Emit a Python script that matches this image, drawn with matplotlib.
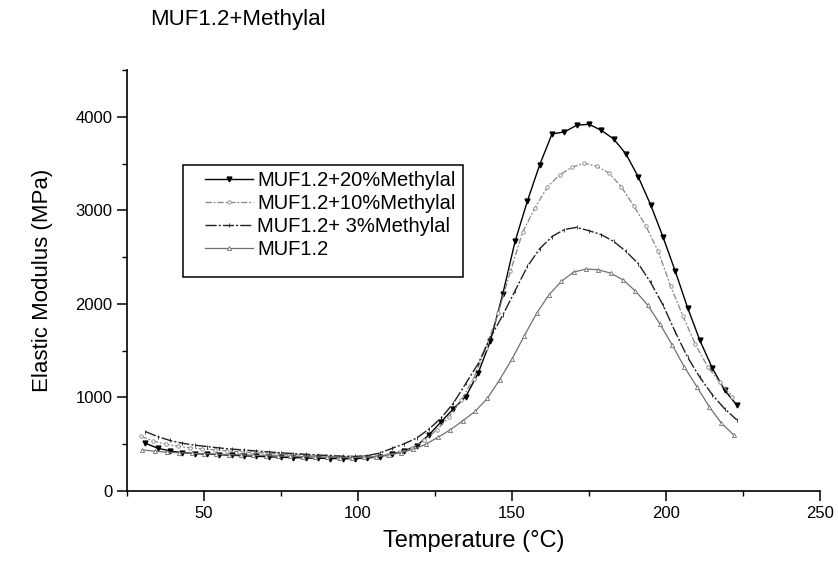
import matplotlib

matplotlib.use("Agg")
import matplotlib.pyplot as plt
from matplotlib.patches import Rectangle
from matplotlib.ticker import MultipleLocator

plt.rcParams["font.family"] = ["Liberation Sans", "DejaVu Sans"]

# temperatures (°C) and elastic modulus (MPa)
temp_20 = [31, 35, 39, 43, 47, 51, 55, 59, 63, 67, 71, 75, 79, 83, 87, 91, 95, 99,
           103, 107, 111, 115, 119, 123, 127, 131, 135, 139, 143, 147, 151, 155,
           159, 163, 167, 171, 175, 179, 183, 187, 191, 195, 199, 203, 207, 211,
           215, 219, 223]
mod_20 = [510, 457, 428, 410, 400, 394, 388, 382, 376, 371, 366, 361, 357, 353,
          350, 347, 345, 346, 352, 367, 396, 431, 481, 599, 740, 880, 1009, 1259,
          1605, 2105, 2668, 3100, 3488, 3817, 3838, 3909, 3920, 3855, 3763, 3603,
          3357, 3060, 2718, 2350, 1960, 1610, 1316, 1080, 917]

temp_10 = [29.5, 33.5, 37.5, 41.5, 45.5, 49.5, 53.5, 57.5, 61.5, 65.5, 69.5, 73.5,
           77.5, 81.5, 85.5, 89.5, 93.5, 97.5, 101.5, 105.5, 109.5, 113.5, 117.5,
           121.5, 125.5, 129.5, 133.5, 137.5, 141.5, 145.5, 149.5, 153.5, 157.5,
           161.5, 165.5, 169.5, 173.5, 177.5, 181.5, 185.5, 189.5, 193.5, 197.5,
           201.5, 205.5, 209.5, 213.5, 217.5, 221.5]
mod_10 = [585, 535, 500, 478, 462, 450, 440, 430, 420, 412, 404, 396, 390, 384,
          378, 373, 368, 364, 362, 368, 385, 415, 460, 540, 650, 790, 970, 1200,
          1530, 1900, 2350, 2770, 3030, 3250, 3380, 3460, 3505, 3470, 3400, 3250,
          3050, 2830, 2560, 2190, 1870, 1570, 1330, 1160, 1010]

temp_3 = temp_20
mod_3 = [635, 580, 540, 510, 490, 475, 460, 448, 438, 428, 418, 408, 400, 392,
         385, 378, 372, 370, 378, 405, 455, 505, 565, 660, 780, 940, 1150, 1360,
         1640, 1880, 2140, 2400, 2590, 2720, 2795, 2818, 2782, 2740, 2668, 2561,
         2430, 2230, 1990, 1700, 1430, 1215, 1030, 880, 760]

temp_0 = [30, 34, 38, 42, 46, 50, 54, 58, 62, 66, 70, 74, 78, 82, 86, 90, 94, 98,
          102, 106, 110, 114, 118, 122, 126, 130, 134, 138, 142, 146, 150, 154,
          158, 162, 166, 170, 174, 178, 182, 186, 190, 194, 198, 202, 206, 210,
          214, 218, 222]
mod_0 = [440, 425, 415, 408, 403, 398, 394, 390, 386, 382, 378, 374, 370, 367,
         364, 361, 358, 357, 360, 368, 385, 410, 445, 500, 575, 655, 750, 850,
         990, 1190, 1410, 1660, 1900, 2097, 2240, 2340, 2372, 2365, 2329, 2258,
         2140, 1990, 1787, 1562, 1323, 1116, 902, 724, 599]

W, H = 838, 561
fig = plt.figure(figsize=(W / 100, H / 100), dpi=100)
ax = fig.add_axes([127 / W, 1 - 491 / H, (820 - 127) / W, (491 - 70) / H])

ax.plot(temp_20, mod_20, color="black", lw=1.0, marker="v", ms=3.5,
        label="MUF1.2+20%Methylal")
ax.plot(temp_10, mod_10, color="#858585", lw=0.9, ls=(0, (5, 1.5, 1.5, 1.5)),
        marker="o", ms=2.5, mfc="white", mew=0.6, label="MUF1.2+10%Methylal")
ax.plot(temp_3, mod_3, color="#222222", lw=1.0, ls=(0, (8, 1.5, 1.5, 1.5)),
        marker="|", ms=3, mew=0.6, label="MUF1.2+ 3%Methylal")
ax.plot(temp_0, mod_0, color="#707070", lw=0.9, marker="^", ms=3,
        mfc="white", mew=0.6, label="MUF1.2")

ax.set_xlim(25, 250)
ax.set_ylim(0, 4500)
ax.set_xticks([50, 100, 150, 200, 250])
ax.set_yticks([0, 1000, 2000, 3000, 4000])
ax.xaxis.set_minor_locator(MultipleLocator(25))
ax.yaxis.set_minor_locator(MultipleLocator(500))

for side in ["top", "right"]:
    ax.spines[side].set_visible(False)
for side in ["left", "bottom"]:
    ax.spines[side].set_linewidth(1.2)
ax.tick_params(which="major", direction="out", length=7, width=1.1,
               labelsize=12)
ax.tick_params(which="minor", direction="out", length=3.5, width=1.0)

ax.set_xlabel("Temperature (°C)", fontsize=17, labelpad=7)
ax.set_ylabel("Elastic Modulus (MPa)", fontsize=16, labelpad=16)
fig.text(150 / W, 1 - 20 / H, "MUF1.2+Methylal", fontsize=16, va="center")

# legend without its own frame, box drawn separately (wider side padding)
leg = ax.legend(loc="upper left", bbox_to_anchor=(205 / W, 1 - 171 / H),
                bbox_transform=fig.transFigure, borderaxespad=0, borderpad=0,
                fontsize=14.5, frameon=False, handlelength=2.4,
                handletextpad=0.2, labelspacing=0.2)
fig.add_artist(Rectangle((183 / W, 1 - 277 / H), 280 / W, 112 / H,
                         transform=fig.transFigure, fill=False,
                         edgecolor="black", lw=1.1))

fig.savefig("out.png", dpi=100)
